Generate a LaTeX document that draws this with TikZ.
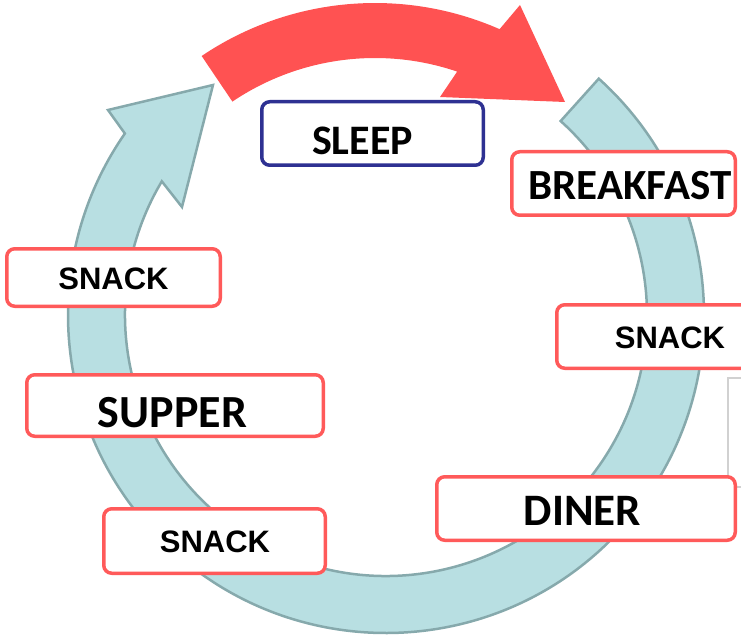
\documentclass[tikz,border=0pt]{standalone}
\usepackage{fontspec}
\setmainfont{Carlito}
\newfontfamily\arialfont{Liberation Sans}
\definecolor{ringfill}{HTML}{B8DFE2}
\definecolor{ringline}{HTML}{86A9AC}
\definecolor{redarrow}{HTML}{FF5252}
\definecolor{boxred}{HTML}{FF5A5A}
\definecolor{boxblue}{HTML}{2E3192}
\tikzset{
  ringstyle/.style={fill=ringfill, draw=ringline, line width=2.5pt, line join=miter},
  redstyle/.style={fill=redarrow, draw=none},
  mealbox/.style={draw=boxred, fill=white, line width=3.5pt, rounded corners=8pt, inner sep=0pt},
  sleepbox/.style={draw=boxblue, fill=white, line width=3.5pt, rounded corners=8pt, inner sep=0pt},
  bigtext/.style={font=\fontsize{43}{50}\selectfont\bfseries, inner sep=0pt},
  snacktext/.style={font=\arialfont\fontsize{31}{36}\selectfont\bfseries, inner sep=0pt}
}
\begin{document}
\begin{tikzpicture}[x=1pt,y=1pt]
\useasboundingbox (0,0) rectangle (741,641);
% teal cycle ring
\begin{scope}[shift={(386,326)}]
  \path[ringstyle] (48:318) arc[start angle=48, end angle=-214.8, radius=318]
    -- (-278,205) -- (-173,230) -- (-204,108)
    -- (149.2:261) arc[start angle=149.2, end angle=408, radius=261] -- cycle;
\end{scope}
% red sleep arrow
\begin{scope}[shift={(375,328)}]
  \path[redstyle] (124:310) arc[start angle=124, end angle=66.3, radius=310]
    -- (145,308) -- (190,211) -- (65,216)
    -- (71.2:255) arc[start angle=71.2, end angle=124, radius=255] -- cycle;
\end{scope}
% faint shadow fragment at right edge
\draw[black!18, line width=1.5pt] (745,263) -- (728,263) -- (728,154) -- (745,154);
% boxes
\node[sleepbox, minimum width=221.5pt, minimum height=63.5pt] (sleepb) at (372.5,507.5) {};
\node[mealbox, minimum width=223.5pt, minimum height=63.5pt] (breakb) at (623.5,457.5) {};
\node[mealbox, minimum width=213.5pt, minimum height=57.5pt] (snack1b) at (113.5,363.5) {};
\node[mealbox, minimum width=216.5pt, minimum height=63.5pt] (snack2b) at (665,304.5) {};
\node[mealbox, minimum width=296.5pt, minimum height=61.5pt] (supperb) at (175,235.5) {};
\node[mealbox, minimum width=221.5pt, minimum height=64.5pt] (snack3b) at (214.5,100) {};
\node[mealbox, minimum width=298.5pt, minimum height=63.5pt] (dinerb) at (586,132.5) {};
% texts
\node[bigtext, font=\fontsize{42}{48}\selectfont\bfseries] (sleep) at (362.5,500) {SLEEP};
\node[bigtext] (breakfast) at (630,455) {BREAKFAST};
\node[snacktext] (snack1) at (113.5,362) {SNACK};
\node[snacktext] (snack2) at (670,303) {SNACK};
\node[bigtext, font=\fontsize{46}{52}\selectfont\bfseries] (supper) at (172.5,228) {SUPPER};
\node[snacktext] (snack3) at (215,99.5) {SNACK};
\node[bigtext, font=\fontsize{45}{52}\selectfont\bfseries] (diner) at (582.5,130) {DINER};
\end{tikzpicture}
\end{document}
